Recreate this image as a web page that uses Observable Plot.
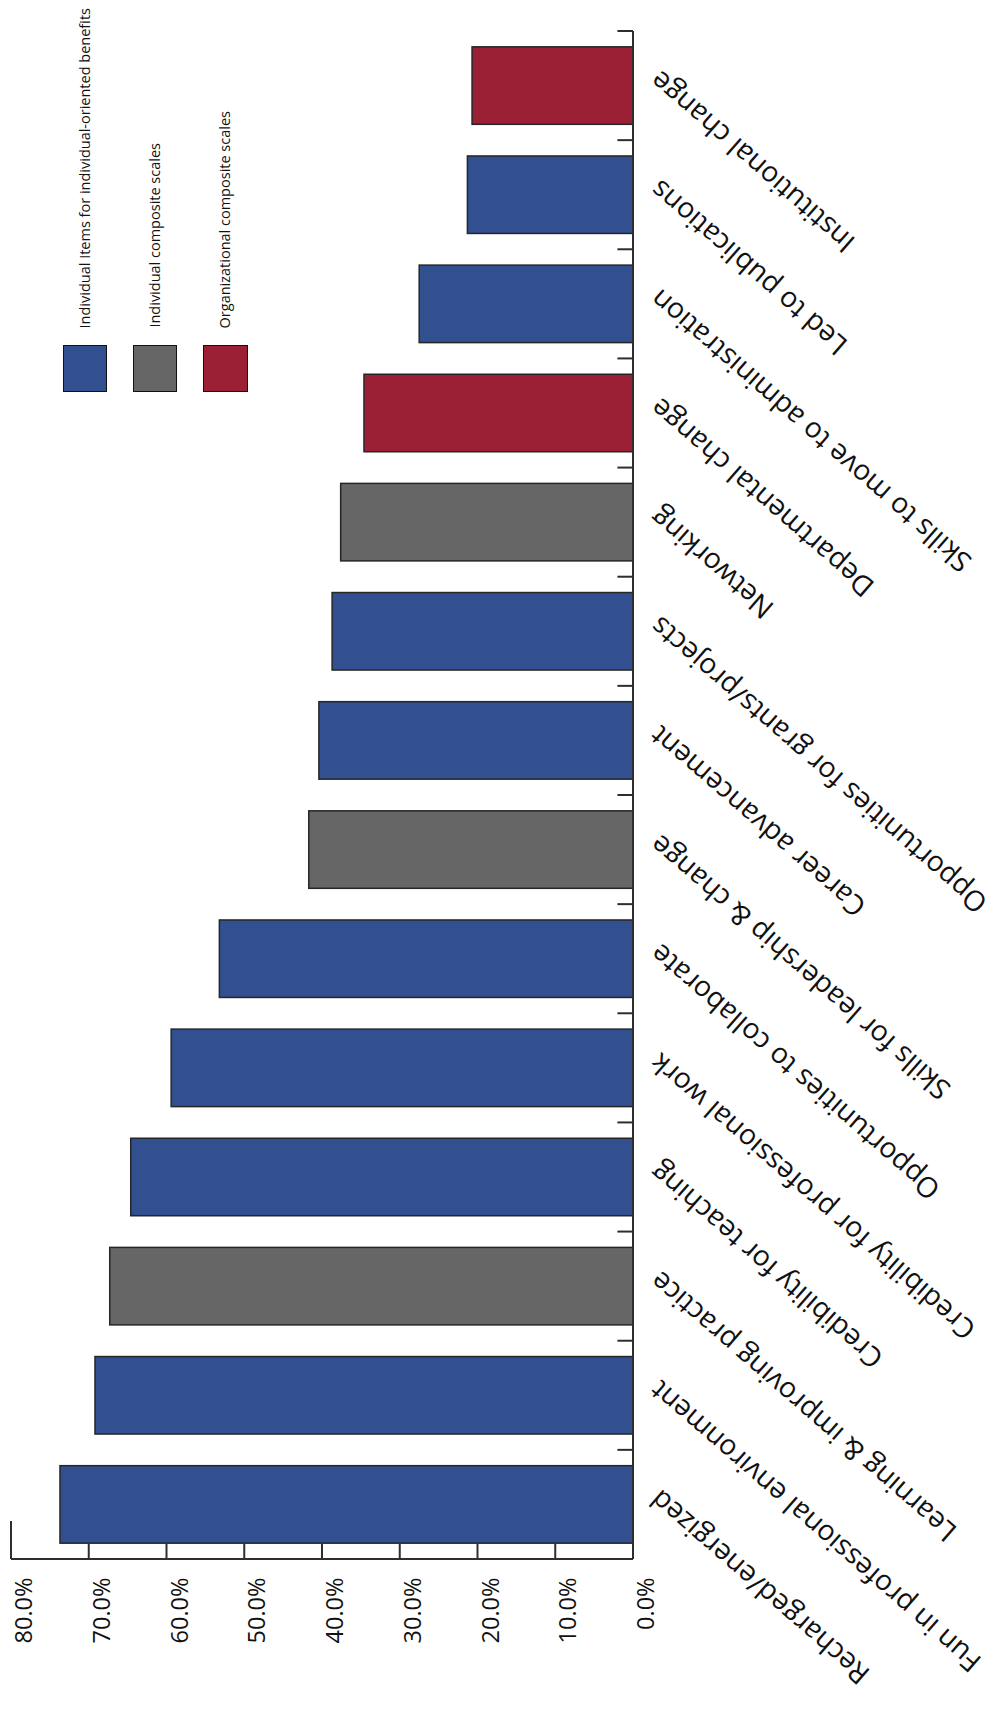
<!DOCTYPE html>
<html>
<head>
<meta charset="utf-8">
<script src="https://cdn.jsdelivr.net/npm/d3@7"></script>
<script src="https://cdn.jsdelivr.net/npm/@observablehq/plot@0.6"></script>
<style>
  html, body { margin: 0; padding: 0; background: #fff; }
  #wrap { position: relative; width: 997px; height: 1716px; font-family: "Open Sans", sans-serif; color: #111; }
  #chart { position: absolute; left: 0; top: 0; }
  .lg-item { position: absolute; top: 0; width: 44.5px; height: 392px; }
  .lg-label { position: absolute; bottom: 64px; left: 50%; transform: translateX(-50%) rotate(180deg);
              writing-mode: vertical-rl; white-space: nowrap; font-size: 14.5px; line-height: 1; color: #111; }
  .lg-swatch { position: absolute; top: 345px; left: 0; width: 44.5px; height: 47px; box-sizing: border-box;
               border: 1.5px solid #111; }
</style>
</head>
<body>
<div id="wrap">
  <div id="chart"></div>
  <div id="legend"></div>
</div>
<script>
// ---- data (top to bottom in the picture) ----
const categories = [
  "Institutional change",
  "Led to publications",
  "Skills to move to administration",
  "Departmental change",
  "Networking",
  "Opportunities for grants/projects",
  "Career advancement",
  "Skills for leadership & change",
  "Opportunities to collaborate",
  "Credibility for professional work",
  "Credibility for teaching",
  "Learning & improving practice",
  "Fun in professional environment",
  "Recharged/energized"
];
const values = [0.207, 0.213, 0.275, 0.346, 0.376, 0.387, 0.404, 0.417, 0.532, 0.594, 0.646, 0.673, 0.692, 0.737];
const groupNames = [
  "Individual Items for individual-oriented benefits",
  "Individual composite scales",
  "Organizational composite scales"
];
const groupColors = ["#32508F", "#666666", "#9B2036"];
// group index of each category (0 = item, 1 = individual composite, 2 = organizational composite)
const groupIndex = [2, 0, 0, 2, 1, 0, 0, 1, 0, 0, 0, 1, 0, 0];
const xTicks = [0, 0.1, 0.2, 0.3, 0.4, 0.5, 0.6, 0.7, 0.8];

const rows = categories.map((c, i) => ({category: c, value: values[i], group: groupNames[groupIndex[i]]}));

// axis lines and inward ticks drawn from the plot's own scales
function axisLines(index, scales, values, dims) {
  const {x, y} = scales;
  const g = d3.create("svg:g").attr("stroke", "#2e2e2e").attr("stroke-width", 2).attr("fill", "none");
  const x0 = x(0);
  const top = dims.marginTop;
  const bottom = dims.height - dims.marginBottom;
  const xMax = x(xTicks[xTicks.length - 1]);
  // category axis (value 0)
  g.append("line").attr("x1", x0).attr("x2", x0).attr("y1", top).attr("y2", bottom);
  // value axis
  g.append("line").attr("x1", xMax).attr("x2", x0).attr("y1", bottom).attr("y2", bottom);
  // value ticks (pointing inward)
  xTicks.forEach((v, i) => {
    const len = i === xTicks.length - 1 ? 38 : 15;
    g.append("line").attr("x1", x(v)).attr("x2", x(v)).attr("y1", bottom).attr("y2", bottom - len);
  });
  // category ticks at band boundaries
  const step = y.step(), bw = y.bandwidth();
  const edges = categories.map(c => y(c) - (step - bw) / 2);
  edges.forEach(e => {
    g.append("line").attr("x1", x0 - 15.6).attr("x2", x0).attr("y1", e).attr("y2", e);
  });
  return g.node();
}

const chart = Plot.plot({
  width: 997,
  height: 1716,
  marginLeft: 11,
  marginRight: 364,
  marginTop: 31,
  marginBottom: 157,
  style: {fontFamily: "'Open Sans', sans-serif", color: "#111", background: "#fff"},
  x: {domain: [0, 0.8], reverse: true},
  y: {type: "band", domain: categories, paddingInner: 0.29, paddingOuter: 0.145, round: false, axis: null},
  color: {domain: groupNames, range: groupColors},
  marks: [
    Plot.barX(rows, {y: "category", x: "value", fill: "group", stroke: "#262626", strokeWidth: 1.5}),
    axisLines,
    Plot.axisX({
      ticks: xTicks,
      tickFormat: d3.format(".1%"),
      tickRotate: -90,
      tickSize: 0,
      tickPadding: 18,
      fontSize: 23.5,
      dx: 13,
      label: null,
      anchor: "bottom"
    }),
    Plot.text(categories, {
      y: d => d,
      text: d => d,
      frameAnchor: "right",
      textAnchor: "end",
      lineAnchor: "middle",
      rotate: -139,
      dx: 21.5,
      dy: -10,
      fontSize: 28.2,
      fill: "#111"
    })
  ]
});
document.getElementById("chart").appendChild(chart);

// legend
const legend = document.getElementById("legend");
groupNames.forEach((name, i) => {
  const item = document.createElement("div");
  item.className = "lg-item";
  item.style.left = (62.5 + 70.3 * i) + "px";
  const label = document.createElement("div");
  label.className = "lg-label";
  label.textContent = name;
  const sw = document.createElement("div");
  sw.className = "lg-swatch";
  sw.style.background = groupColors[i];
  item.appendChild(label);
  item.appendChild(sw);
  legend.appendChild(item);
});
</script>
</body>
</html>
